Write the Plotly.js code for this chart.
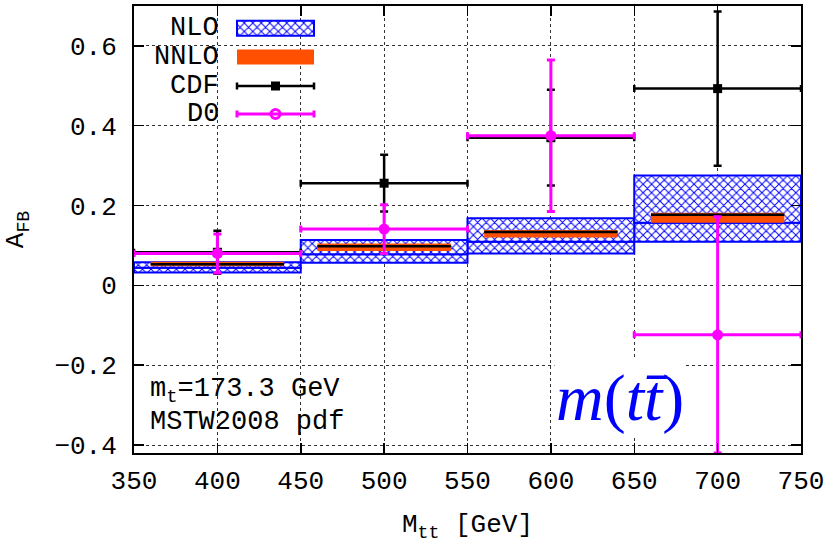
<!DOCTYPE html>
<html>
<head>
<meta charset="utf-8">
<script src="https://cdn.plot.ly/plotly-3.0.1.min.js"></script>
<style>html,body{margin:0;padding:0;background:#fff;}#chart{width:837px;height:548px;}</style>
</head>
<body>
<div id="chart"></div>
<script>
// ---- data ----
const binLow  = [350, 450, 550, 650];
const binHigh = [450, 550, 650, 750];

const nloLow  = [0.032, 0.057, 0.080, 0.109];
const nloMid  = [0.044, 0.078, 0.109, 0.157];
const nloHigh = [0.058, 0.114, 0.168, 0.275];

const nnloLow     = [0.048, 0.086, 0.120, 0.157];
const nnloCentral = [0.053, 0.098, 0.134, 0.177];
const nnloHigh    = [0.059, 0.105, 0.139, 0.182];

const cdfValue = [0.083, 0.256, 0.370, 0.493];
const cdfError = [0.054, 0.071, 0.120, 0.193];

const d0Value = [0.080, 0.141, 0.375, -0.124];
const d0Error = [0.049, 0.061, 0.190, 0.296];

const xTicks = [350, 400, 450, 500, 550, 600, 650, 700, 750];
const yTicks = [-0.4, -0.2, 0, 0.2, 0.4, 0.6];

const legendNames = ['NLO', 'NNLO', 'CDF', 'D0'];

// ---- derived ----
const centers = binLow.map((l, i) => (l + binHigh[i]) / 2);
const widths  = binLow.map((l, i) => binHigh[i] - l);
const halfW   = widths.map(w => w / 2);
const diff = (a, b) => a.map((v, i) => v - b[i]);

const BLUE = '#0000ff', ORANGE = '#ff4f00', MAG = '#ff00ff';
const MONO = 'Liberation Mono, Courier New, monospace';
const hatch = {shape: 'x', fgcolor: BLUE, bgcolor: 'white', size: 6, solidity: 0.3};

const traces = [
  {type: 'bar', x: centers, base: nloLow, y: diff(nloMid, nloLow), width: widths,
   marker: {color: 'white', pattern: hatch, line: {color: BLUE, width: 2}}, showlegend: false, hoverinfo: 'skip'},
  {type: 'bar', x: centers, base: nloMid, y: diff(nloHigh, nloMid), width: widths,
   marker: {color: 'white', pattern: hatch, line: {color: BLUE, width: 2}}, showlegend: false, hoverinfo: 'skip'},
  {type: 'bar', x: centers, base: nnloLow, y: diff(nnloHigh, nnloLow), width: widths.map(w => w * 0.8),
   marker: {color: ORANGE, line: {width: 0}}, showlegend: false, hoverinfo: 'skip'},
  {type: 'scatter', mode: 'markers', x: centers, y: nnloCentral,
   marker: {size: 1, color: 'rgba(0,0,0,0)'},
   error_x: {type: 'data', array: widths.map(w => w * 0.4), width: 0, thickness: 2.5, color: 'black'},
   showlegend: false, hoverinfo: 'skip'},
  {type: 'scatter', mode: 'markers', x: centers, y: cdfValue,
   marker: {symbol: 'square', size: 9, color: 'black'},
   error_x: {type: 'data', array: halfW, width: 3.5, thickness: 2.5, color: 'black'},
   error_y: {type: 'data', array: cdfError, width: 4, thickness: 2.5, color: 'black'},
   showlegend: false},
  {type: 'scatter', mode: 'markers', x: centers, y: d0Value,
   marker: {symbol: 'circle', size: 11, color: MAG},
   error_x: {type: 'data', array: halfW, width: 3.5, thickness: 3, color: MAG},
   error_y: {type: 'data', array: d0Error, width: 4, thickness: 3, color: MAG},
   showlegend: false},
  // legend keys (pixel-like overlay axes)
  {type: 'bar', xaxis: 'x2', yaxis: 'y2', x: [275.5], base: [20.7], y: [15], width: [77],
   marker: {color: 'white', pattern: hatch, line: {color: BLUE, width: 2}}, showlegend: false, hoverinfo: 'skip'},
  {type: 'bar', xaxis: 'x2', yaxis: 'y2', x: [275.5], base: [49.5], y: [15], width: [77],
   marker: {color: ORANGE, line: {width: 0}}, showlegend: false, hoverinfo: 'skip'},
  {type: 'scatter', mode: 'markers', xaxis: 'x2', yaxis: 'y2', x: [275.5], y: [86],
   marker: {symbol: 'square', size: 9, color: 'black'},
   error_x: {type: 'data', array: [38.5], width: 3.5, thickness: 2.5, color: 'black'}, showlegend: false},
  {type: 'scatter', mode: 'markers', xaxis: 'x2', yaxis: 'y2', x: [275.5], y: [114],
   marker: {symbol: 'circle-open', size: 9, color: MAG, line: {width: 3, color: MAG}},
   error_x: {type: 'data', array: [38.5], width: 3.5, thickness: 3, color: MAG}, showlegend: false}
];

const legendY = [28, 57, 86, 114];
const annotations = legendNames.map((n, i) => ({
  xref: 'x2', yref: 'y2', x: 221, y: legendY[i], xanchor: 'right', yanchor: 'middle',
  text: n, showarrow: false, font: {family: MONO, size: 27, color: 'black'}
}));
annotations.push(
  {xref: 'x2', yref: 'y2', x: 148, y: 391, xanchor: 'left', yanchor: 'middle', showarrow: false,
   text: 'm<sub>t</sub>=173.3 GeV', font: {family: MONO, size: 27, color: 'black'}},
  {xref: 'x2', yref: 'y2', x: 148, y: 422, xanchor: 'left', yanchor: 'middle', showarrow: false,
   text: 'MSTW2008 pdf', font: {family: MONO, size: 27, color: 'black'}},
  {xref: 'x2', yref: 'y2', x: 620, y: 398, xanchor: 'center', yanchor: 'middle', showarrow: false,
   text: '<i>m</i>(<i>tt̄</i>)', bgcolor: 'white',
   font: {family: 'Liberation Serif, DejaVu Serif, serif', size: 66, color: BLUE}}
);

const layout = {
  width: 837, height: 548,
  margin: {l: 134, r: 36, t: 6, b: 95},
  paper_bgcolor: 'white', plot_bgcolor: 'white',
  barmode: 'overlay',
  showlegend: false,
  xaxis: {
    range: [350, 750], tickvals: xTicks, ticktext: xTicks.map(String),
    ticks: 'inside', ticklen: 10, tickwidth: 1.5, tickcolor: 'black',
    showline: true, linecolor: 'black', linewidth: 2, mirror: 'ticks',
    showgrid: true, gridcolor: '#333', griddash: 'dot', gridwidth: 1, zeroline: false,
    tickfont: {family: MONO, size: 26, color: 'black'}, ticklabelstandoff: 3,
    title: {text: 'M<sub>tt</sub> [GeV]', font: {family: MONO, size: 26, color: 'black'}, standoff: 18}
  },
  yaxis: {
    range: [-0.42, 0.70], tickvals: yTicks, ticktext: ['−0.4', '−0.2', '0', '0.2', '0.4', '0.6'],
    ticks: 'inside', ticklen: 10, tickwidth: 1.5, tickcolor: 'black',
    showline: true, linecolor: 'black', linewidth: 2, mirror: 'ticks',
    showgrid: true, gridcolor: '#333', griddash: 'dot', gridwidth: 1, zeroline: false,
    tickfont: {family: MONO, size: 26, color: 'black'}, ticklabelstandoff: 10,
    title: {text: 'A<sub>FB</sub>', font: {family: MONO, size: 26, color: 'black'}, standoff: 23}
  },
  xaxis2: {overlaying: 'x', anchor: 'y2', range: [134, 801], visible: false, fixedrange: true},
  yaxis2: {overlaying: 'y', anchor: 'x2', range: [453, 6], visible: false, fixedrange: true},
  shapes: [
    {type: 'rect', xref: 'x', yref: 'y', x0: 350, x1: 467, y0: 0.39, y1: 0.70,
     fillcolor: 'white', line: {width: 0}, layer: 'below'}
  ],
  annotations: annotations
};

Plotly.newPlot('chart', traces, layout, {staticPlot: true, displayModeBar: false});
</script>
</body>
</html>
